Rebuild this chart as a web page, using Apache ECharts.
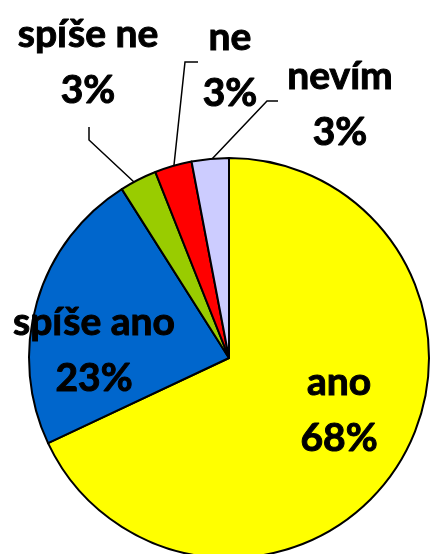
<!DOCTYPE html>
<html>
<head>
<meta charset="utf-8">
<script src="https://cdn.jsdelivr.net/npm/echarts@6/dist/echarts.min.js"></script>
<style>
html,body{margin:0;padding:0;background:#fff;}
#chart{width:430px;height:554px;}
</style>
</head>
<body>
<div id="chart"></div>
<script>
// kategorie a hodnoty (v %)
var categories = ['ano', 'spíše ano', 'spíše ne', 'ne', 'nevím'];
var values = [68, 23, 3, 3, 3];
var colors = ['#FFFF00', '#0066CC', '#99CC00', '#FF0000', '#CCCCFF'];

// umisteni popisku (stred textu) a vodici cary
var labelPos = [[339, 410], [94, 350], [88, 62], [230, 65], [340, 104]];
var linePts = [null, null,
	[[134, 182], [89, 140], [89, 127]],
	[[174, 165], [185, 62], [198, 62]],
	[[212, 159], [267, 101], [278, 101]]];

var myChart = echarts.init(document.getElementById('chart'));
var data = [];
for (var i = 0; i < categories.length; i++) {
	data.push({
		name: categories[i],
		value: values[i],
		itemStyle: {color: colors[i]},
		labelLine: {show: linePts[i] != null}
	});
}
var option = {
	animation: false,
	series: [{
		type: 'pie',
		center: [229, 358],
		radius: 200,
		startAngle: 90,
		clockwise: true,
		avoidLabelOverlap: false,
		itemStyle: {borderColor: '#000', borderWidth: 2},
		label: {
			show: true,
			formatter: '{b}\n{c}%',
			fontFamily: 'Lato',
			fontWeight: 'bold',
			fontSize: 39,
			lineHeight: 56,
			color: '#000',
			textBorderColor: '#000',
			textBorderWidth: 1
		},
		labelLine: {
			show: true,
			lineStyle: {color: '#000', width: 1.5}
		},
		labelLayout: function (p) {
			var k = p.dataIndex;
			var res = {x: labelPos[k][0], y: labelPos[k][1], align: 'center', verticalAlign: 'middle'};
			if (linePts[k]) res.labelLinePoints = linePts[k];
			return res;
		},
		data: data
	}]
};
myChart.setOption(option);
</script>
</body>
</html>
